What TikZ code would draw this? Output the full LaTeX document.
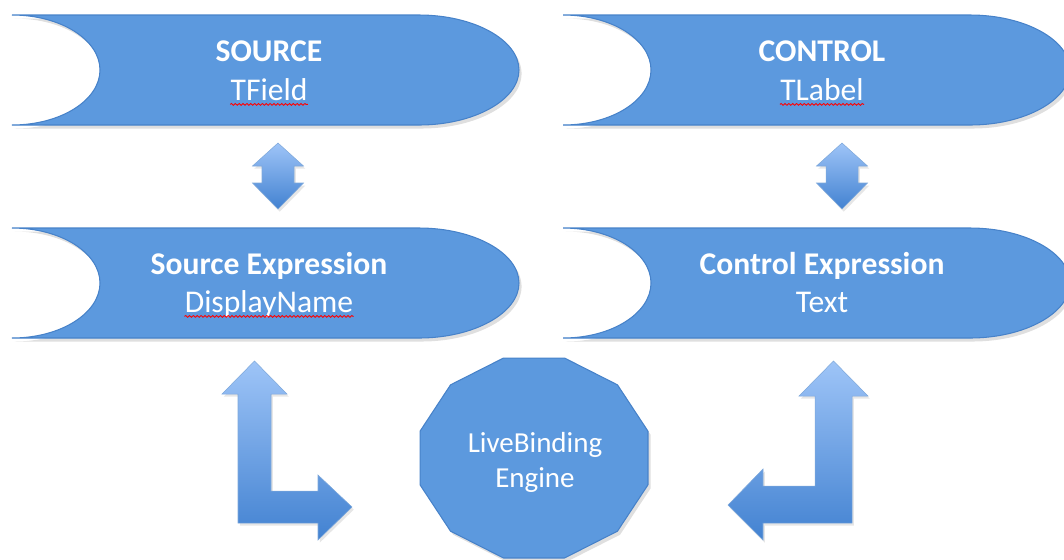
\documentclass[tikz,border=0pt]{standalone}
\usepackage{fontspec}
\setmainfont{Carlito}
\usepackage{xcolor}
\usepackage{tikz}
\usetikzlibrary{shadows,decorations.pathmorphing}
\definecolor{lbbanner}{rgb}{0.36,0.60,0.87}
\definecolor{lbedge}{rgb}{0.28,0.51,0.79}
\definecolor{lblight}{rgb}{0.62,0.77,0.97}
\definecolor{lbdark}{rgb}{0.26,0.51,0.82}
\tikzset{
  lbfill/.style={fill=lbbanner, draw=lbedge, line width=0.6pt,
    drop shadow={shadow xshift=1.5pt, shadow yshift=-2pt, opacity=0.25}},
  lbarrow/.style={top color=lblight, bottom color=lbdark, draw=lbedge!70, line width=0.3pt,
    drop shadow={shadow xshift=1pt, shadow yshift=-1.5pt, opacity=0.2}},
  ttl/.style={anchor=base, text=white, inner sep=0pt, font=\fontsize{18}{22}\selectfont\bfseries},
  val/.style={anchor=base, text=white, inner sep=0pt, font=\fontsize{18}{22}\selectfont},
  spell/.style={red, line width=0.5pt, decorate, decoration={snake, amplitude=0.5pt, segment length=2.2pt}}
}
\begin{document}
\begin{tikzpicture}[x=0.02cm, y=-0.02cm]
  \useasboundingbox (0,0) rectangle (1064,559);
  % banners
  \foreach \dx/\dy in {0/0, 551/0, 0/213, 551/213} {
    \begin{scope}[shift={(\dx,\dy)}]
      \path[lbfill] (12,15) -- (419,15) .. controls (474,15) and (519,40) .. (519,70)
        .. controls (519,100) and (474,125) .. (419,125) -- (12,125)
        .. controls (61,125) and (100,100) .. (100,70)
        .. controls (100,40) and (61,15) .. (12,15) -- cycle;
    \end{scope}
  }
  \node[ttl] (src) at (269,61) {SOURCE};
  \node[val] (srcval) at (269,100) {TField};
  \node[ttl] (srcx) at (269,274) {Source Expression};
  \node[val] (srcxval) at (269,312) {DisplayName};
  \node[ttl] (ctl) at (822,61) {CONTROL};
  \node[val] (ctlval) at (822,100) {TLabel};
  \node[ttl] (ctlx) at (822,274) {Control Expression};
  \node[val] (ctlxval) at (822,312) {Text};
  % spelling marks
  \foreach \n in {srcval, srcxval, ctlval}
    \draw[spell] ([yshift=-2.5pt]\n.base west) -- ([yshift=-2.5pt]\n.base east);
  % up/down arrows
  \foreach \cx in {278,842}
    \path[lbarrow] (\cx,143) -- ++(25.5,23) -- ++(-9.5,0) -- ++(0,17) -- ++(9.5,0)
      -- ++(-25.5,26) -- ++(-25.5,-26) -- ++(9.5,0) -- ++(0,-17) -- ++(-9.5,0) -- cycle;
  % engine
  \path[lbfill] (534,458) +(15:118 and 103.5)
    \foreach \a in {45,75,...,345} { -- +(\a:118 and 103.5) } -- cycle;
  \node[val, font=\fontsize{16.5}{20}\selectfont] (engine) at (535,452) {LiveBinding};
  \node[val, font=\fontsize{16.5}{20}\selectfont] (engineb) at (535,487) {Engine};
  % bent arrows
  \path[lbarrow] (254.5,361) -- (287,394) -- (271,394) -- (271,491) -- (318,491) -- (318,475)
    -- (352,507) -- (318,540) -- (318,523) -- (238,523) -- (238,394) -- (222,394) -- cycle;
  \path[lbarrow] (833.5,361) -- (868,396) -- (852,396) -- (852,523) -- (763,523) -- (763,540)
    -- (728,505) -- (763,469) -- (763,486) -- (815,486) -- (815,396) -- (799,396) -- cycle;
\end{tikzpicture}
\end{document}
